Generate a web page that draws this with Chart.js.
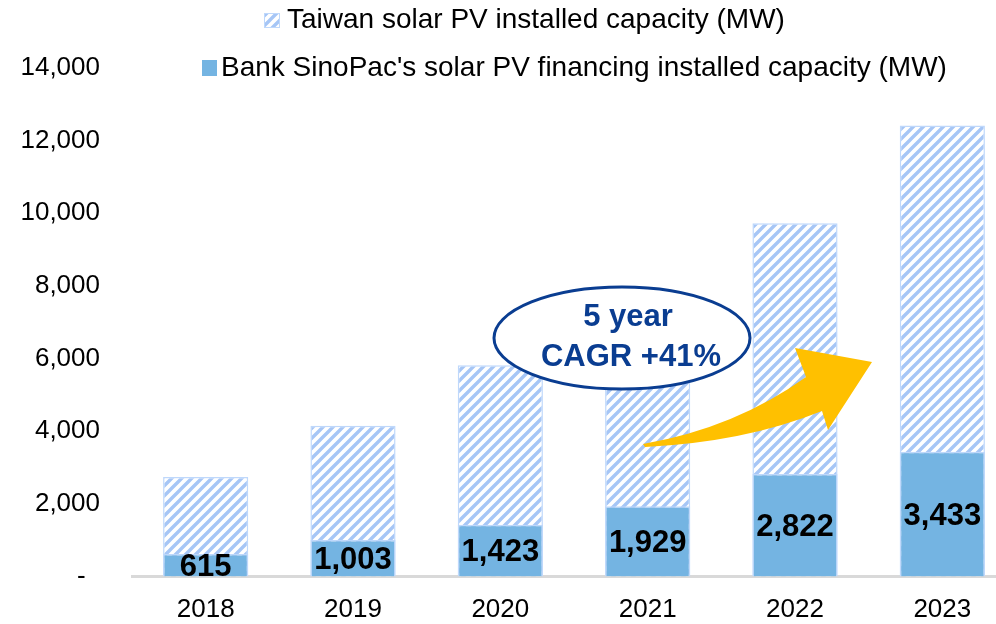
<!DOCTYPE html>
<html>
<head>
<meta charset="utf-8">
<script src="https://cdn.jsdelivr.net/npm/chart.js@4.4.1/dist/chart.umd.min.js"></script>
<style>
  body { margin: 0; overflow: hidden; background: #fff; }
  #wrap { width: 1016px; height: 624px; }
</style>
</head>
<body>
<div id="wrap"><canvas id="myChart"></canvas></div>
<script>
const years = ['2018', '2019', '2020', '2021', '2022', '2023'];
const taiwanMW = [2738, 4150, 5817, 7700, 9724, 12418];
const sinopacMW = [615, 1003, 1423, 1929, 2822, 3433];
const yTicks = [0, 2000, 4000, 6000, 8000, 10000, 12000, 14000];

const legendNames = [
  'Taiwan solar PV installed capacity (MW)',
  "Bank SinoPac's solar PV financing installed capacity (MW)"
];

const FONT = '"Liberation Sans", Arial, sans-serif';
const solidBlue = '#74b4e2';
const hatchBlue = '#a6c6f6';
const edgeBlue = '#bfd8fb';

// diagonal hatch like the excel pattern fill
function makeHatch() {
  const c = document.createElement('canvas');
  c.width = 10; c.height = 10;
  const g = c.getContext('2d');
  g.fillStyle = '#fff';
  g.fillRect(0, 0, 10, 10);
  g.strokeStyle = hatchBlue;
  g.lineWidth = 3.4;
  g.beginPath();
  for (let k = -10; k <= 10; k += 10) {
    g.moveTo(k - 2, 12);
    g.lineTo(k + 12, -2);
  }
  g.stroke();
  return g.createPattern(c, 'repeat');
}
const hatch = makeHatch();

// legend drawn by hand, two lines with different offsets
const legendPlugin = {
  id: 'legendPlugin',
  afterDraw(chart) {
    const ctx = chart.ctx;
    ctx.save();
    ctx.font = '28px ' + FONT;
    ctx.textBaseline = 'alphabetic';
    ctx.textAlign = 'left';
    // line 1
    ctx.fillStyle = hatch;
    ctx.fillRect(264, 13, 16, 15);
    ctx.strokeStyle = edgeBlue;
    ctx.lineWidth = 1;
    ctx.strokeRect(264.5, 13.5, 15, 14);
    ctx.fillStyle = '#000';
    ctx.fillText(legendNames[0], 287, 28);
    // line 2
    ctx.fillStyle = solidBlue;
    ctx.fillRect(202, 60, 15, 16);
    ctx.fillStyle = '#000';
    ctx.fillText(legendNames[1], 221, 76);
    ctx.restore();
  }
};

// values inside the sinopac bars
const labelPlugin = {
  id: 'labelPlugin',
  afterDatasetsDraw(chart) {
    const ctx = chart.ctx;
    const meta = chart.getDatasetMeta(1);
    ctx.save();
    ctx.font = 'bold 31px ' + FONT;
    ctx.fillStyle = '#000';
    ctx.textAlign = 'center';
    ctx.textBaseline = 'middle';
    meta.data.forEach((bar, i) => {
      const mid = (bar.y + bar.base) / 2;
      ctx.fillText(sinopacMW[i].toLocaleString('en-US'), bar.x, mid + 2);
    });
    ctx.restore();
  }
};

// CAGR bubble and yellow arrow
const notePlugin = {
  id: 'notePlugin',
  afterDatasetsDraw(chart) {
    const ctx = chart.ctx;
    ctx.save();
    // arrow
    ctx.fillStyle = '#ffc000';
    ctx.beginPath();
    ctx.moveTo(643, 444);
    ctx.quadraticCurveTo(735, 428, 806, 377);
    ctx.lineTo(795, 348);
    ctx.lineTo(872, 362);
    ctx.lineTo(828, 430);
    ctx.lineTo(822, 411);
    ctx.quadraticCurveTo(745, 442, 645, 447);
    ctx.closePath();
    ctx.fill();
    // ellipse
    ctx.beginPath();
    ctx.ellipse(622, 338, 128, 51, 0, 0, Math.PI * 2);
    ctx.fillStyle = '#fff';
    ctx.fill();
    ctx.lineWidth = 3;
    ctx.strokeStyle = '#0a3d91';
    ctx.stroke();
    ctx.fillStyle = '#0a3d91';
    ctx.font = 'bold 31px ' + FONT;
    ctx.textAlign = 'center';
    ctx.textBaseline = 'alphabetic';
    ctx.fillText('5 year', 628, 326);
    ctx.fillText('CAGR +41%', 631, 366);
    ctx.restore();
  }
};

const data = {
  labels: years,
  datasets: [
    {
      label: legendNames[0],
      data: taiwanMW,
      backgroundColor: hatch,
      borderColor: edgeBlue,
      borderWidth: 1.5,
      order: 2
    },
    {
      label: legendNames[1],
      data: sinopacMW,
      backgroundColor: solidBlue,
      borderColor: edgeBlue,
      borderWidth: 1.5,
      order: 1
    }
  ]
};

const config = {
  type: 'bar',
  data: data,
  options: {
    responsive: true,
    maintainAspectRatio: false,
    animation: false,
    layout: { padding: { top: 68, left: 0, right: 0, bottom: 0 } },
    datasets: {
      bar: { grouped: false, barPercentage: 0.578, categoryPercentage: 1 }
    },
    plugins: {
      legend: { display: false },
      tooltip: { enabled: false }
    },
    scales: {
      x: {
        grid: { display: false, drawTicks: false },
        border: { display: true, color: '#d9d9d9', width: 3 },
        ticks: { color: '#000', font: { family: FONT, size: 26 }, padding: 18 },
        afterFit(scale) { scale.height = 47; }
      },
      y: {
        min: 0,
        max: 14000,
        afterBuildTicks(scale) { scale.ticks = yTicks.map(v => ({ value: v })); },
        grid: { display: false, drawTicks: false },
        border: { display: false },
        ticks: {
          color: '#000',
          font: { family: FONT, size: 26 },
          padding: 32,
          callback: v => v === 0 ? '-  ' : v.toLocaleString('en-US')
        },
        afterFit(scale) { scale.width = 132; }
      }
    }
  },
  plugins: [labelPlugin, notePlugin, legendPlugin]
};

const myChart = new Chart(document.getElementById('myChart'), config);
</script>
</body>
</html>
